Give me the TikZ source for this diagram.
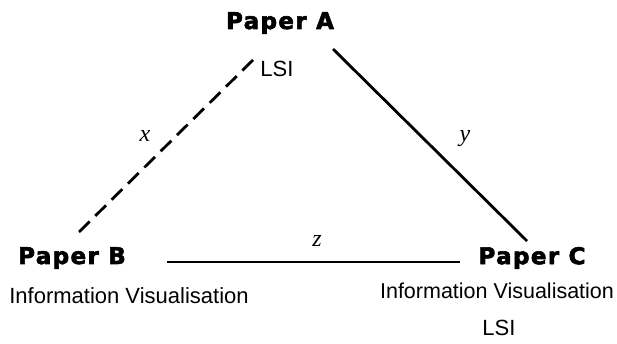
\documentclass[tikz,border=0pt]{standalone}
\usepackage{fontspec}
\setmainfont{Liberation Sans}
\newfontfamily\heavyfont{DejaVu Sans}[BoldFeatures={FakeBold=2.6}, LetterSpace=6]
\newfontfamily\mathitfont{Liberation Serif}
\begin{document}
\begin{tikzpicture}[x=1pt,y=-1pt,
  paper/.style={inner sep=0pt,font=\heavyfont\bfseries\fontsize{23}{26}\selectfont},
  info/.style={inner sep=0pt,font=\fontsize{22}{26}\selectfont},
  varlabel/.style={inner sep=0pt,font=\mathitfont\itshape\fontsize{24}{28}\selectfont},
  link/.style={line width=2.8pt},
  dlink/.style={line width=2.8pt,dash pattern=on 15pt off 7.97pt}]
\useasboundingbox (0,0) rectangle (617,344);
\node[paper] (A) at (280,23) {Paper A};
\node[info] (lsiA) at (277,69) {LSI};
\node[paper] (B) at (72,258) {Paper B};
\node[info] (infoB) at (129,296) {Information Visualisation};
\node[paper] (C) at (532,258) {Paper C};
\node[info, font=\fontsize{21.5}{26}\selectfont] (infoC) at (497,291) {Information Visualisation};
\node[info] (lsiC) at (499,328) {LSI};
\node[varlabel] (x) at (145,136) {x};
\node[varlabel] (y) at (465,139) {y};
\node[varlabel] (z) at (317,241) {z};
\coordinate (ab1) at (253,60);
\coordinate (ab2) at (79,232);
\coordinate (ac1) at (333,49);
\coordinate (ac2) at (527,241);
\coordinate (bc1) at (167,262);
\coordinate (bc2) at (460,262);
\draw[dlink] (ab1) -- (ab2);
\draw[link] (ac1) -- (ac2);
\draw[link] (bc1) -- (bc2);
\end{tikzpicture}
\end{document}
